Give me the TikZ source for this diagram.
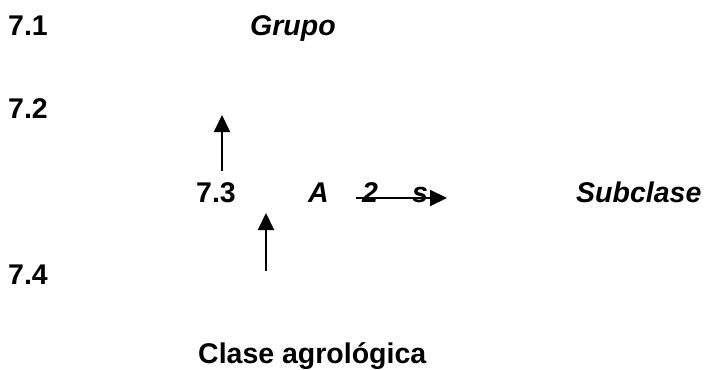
\documentclass[tikz,border=0pt]{standalone}
\usepackage{fontspec}
\setmainfont{Liberation Sans}
\usetikzlibrary{arrows.meta,positioning}
\tikzset{
  >={Triangle[width=16pt,length=17pt]},
  lbl/.style ={anchor=base west,inner sep=0pt,font=\fontsize{28.5}{32}\selectfont\bfseries},
  ilbl/.style={lbl,font=\fontsize{28.5}{32}\selectfont\bfseries\itshape},
  ar/.style  ={->,line width=2pt,black},
}
\begin{document}
\begin{tikzpicture}[x=1pt,y=-1pt]
\useasboundingbox (0,0) rectangle (708,369);
% numbered lines
\node[lbl] (n71) at (8,35) {7.1};
\node[lbl] (n72) at (8,118) {7.2};
\node[lbl] (n73) at (196,202) {7.3};
\node[lbl] (n74) at (8,284) {7.4};
% symbol parts
\node[ilbl] (grupo) at (250,35) {Grupo};
\node[ilbl] (letA) at (308,202) {A};
\node[ilbl] (num2) at (362,202) {2};
\node[ilbl] (lets) at (412,202) {s};
\node[ilbl] (subclase) at (576,202) {Subclase};
\node[lbl] (clase) at (198,363) {Clase agrológica};
% arrows
\coordinate (up1a) at (222,171);
\coordinate (up1b) at (222,115);
\coordinate (up2a) at (266,271);
\coordinate (up2b) at (266,213);
\coordinate (hza) at (356,198);
\coordinate (hzb) at (447,198);
\draw[ar] (up1a) -- (up1b);
\draw[ar] (up2a) -- (up2b);
\draw[ar] (hza) -- (hzb);
\end{tikzpicture}
\end{document}
